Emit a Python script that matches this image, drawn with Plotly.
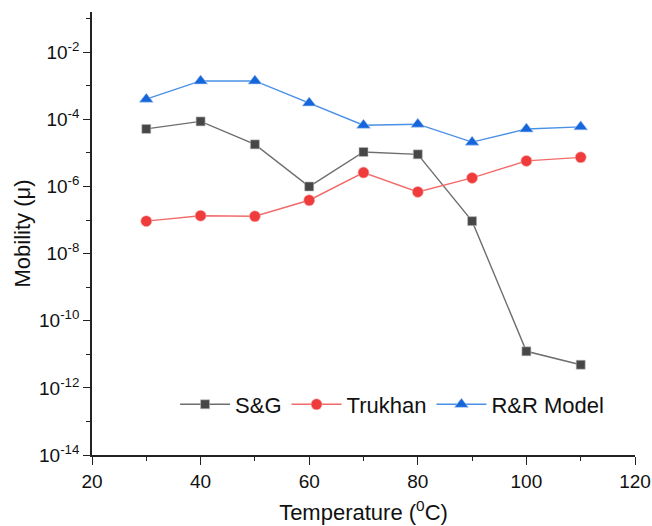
import plotly.graph_objects as go

temperature = [30, 40, 50, 60, 70, 80, 90, 100, 110]
sg_mobility = [5.2e-5, 8.7e-5, 1.8e-5, 1.0e-6, 1.07e-5, 9.1e-6, 9.3e-8, 1.23e-11, 4.9e-12]
trukhan_mobility = [9.3e-8, 1.35e-7, 1.3e-7, 3.9e-7, 2.6e-6, 6.9e-7, 1.8e-6, 5.8e-6, 7.4e-6]
rr_mobility = [4.0e-4, 1.4e-3, 1.4e-3, 3.1e-4, 6.7e-5, 7.2e-5, 2.1e-5, 5.2e-5, 6.0e-5]

y_major_exps = [-14, -12, -10, -8, -6, -4, -2]
y_minor_exps = [-13, -11, -9, -7, -5, -3, -1]
x_major = [20, 40, 60, 80, 100, 120]
x_minor = [30, 50, 70, 90, 110]

FONT = "Liberation Sans, Arial, sans-serif"

fig = go.Figure()
fig.add_trace(go.Scatter(
    x=temperature, y=sg_mobility, name="S&G", mode="lines+markers",
    line=dict(color="#6e6e6e", width=1.4),
    marker=dict(symbol="square", size=9, color="#474747",
                line=dict(color="#bdbdbd", width=0.6)),
))
fig.add_trace(go.Scatter(
    x=temperature, y=trukhan_mobility, name="Trukhan", mode="lines+markers",
    line=dict(color="#f26b6b", width=1.4),
    marker=dict(symbol="circle", size=11, color="#ef3b3b",
                line=dict(color="#f7b0b0", width=0.6)),
))
fig.add_trace(go.Scatter(
    x=temperature, y=rr_mobility, name="R&R Model", mode="lines+markers",
    line=dict(color="#4a90e6", width=1.4),
    marker=dict(symbol="triangle-up", size=12, color="#1565db",
                line=dict(color="#a9c8f2", width=0.6)),
))

fig.update_layout(
    width=652, height=526,
    margin=dict(l=92, r=17, t=12, b=71, autoexpand=False),
    paper_bgcolor="white", plot_bgcolor="white",
    font=dict(family=FONT, color="#111111", size=19),
    legend=dict(
        orientation="h", x=0.153, y=0.114, xanchor="left", yanchor="middle",
        font=dict(size=22, family=FONT, color="#111111"),
        bgcolor="rgba(0,0,0,0)", itemwidth=50, tracegroupgap=0,
    ),
    showlegend=True,
)

fig.update_xaxes(
    range=[20, 120], showgrid=False, zeroline=False, automargin=False,
    showline=True, linecolor="#222222", linewidth=1.6,
    ticks="outside", ticklen=8, tickwidth=1.4, tickcolor="#222222",
    tickmode="array", tickvals=x_major, ticktext=[str(v) for v in x_major],
    tickfont=dict(size=19, family=FONT, color="#111111"),
    minor=dict(tickmode="array", tickvals=x_minor, ticks="outside",
               ticklen=4, tickwidth=1.4, tickcolor="#222222", showgrid=False),
    title=dict(text="Temperature (<sup>0</sup>C)", font=dict(size=22, family=FONT, color="#111111"),
               standoff=14),
)

fig.update_yaxes(
    type="log", range=[-14, -0.8], showgrid=False, zeroline=False, automargin=False,
    showline=True, linecolor="#222222", linewidth=1.6,
    ticks="outside", ticklen=7, tickwidth=1.4, tickcolor="#222222",
    tickmode="array", tickvals=[10.0 ** e for e in y_major_exps],
    ticktext=["10<sup>%d</sup>" % e for e in y_major_exps],
    tickfont=dict(size=19, family=FONT, color="#111111"),
    minor=dict(tickmode="array", tickvals=[10.0 ** e for e in y_minor_exps], ticks="outside",
               ticklen=4, tickwidth=1.4, tickcolor="#222222", showgrid=False),
    title=dict(text="Mobility (\u03bc)", font=dict(size=22, family=FONT, color="#111111"),
               standoff=2),
)

fig.write_html("out.html")
